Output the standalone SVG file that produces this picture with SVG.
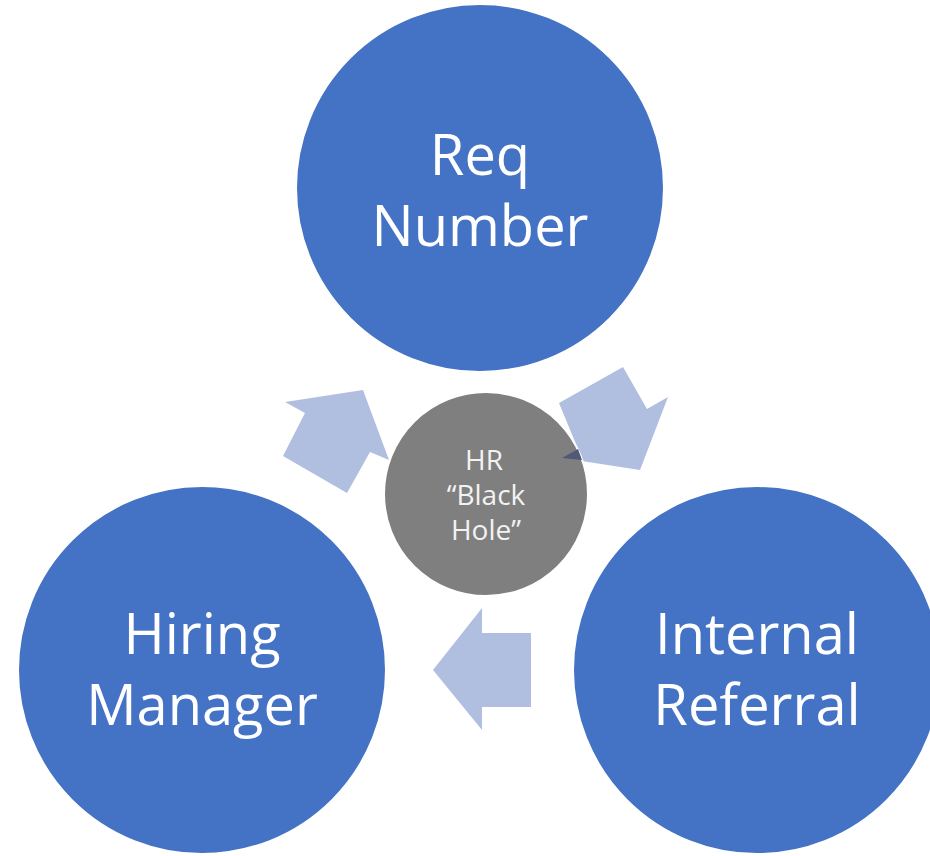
<svg xmlns="http://www.w3.org/2000/svg" width="930" height="856" viewBox="0 0 930 856">
<style>
.big{fill:#4472C4;stroke:#ffffff;stroke-width:2}
.hole{fill:#7F7F7F;stroke:#ffffff;stroke-width:2}
.arr{fill:#B0BEE0}
.t{font-family:"Open Sans","Noto Sans",sans-serif;fill:#ffffff;text-anchor:middle}
.tb{font-size:56px}
.ts{font-size:28px;fill:#F2F2F2}
</style>
<rect width="930" height="856" fill="#ffffff"/>
<g id="connectors">
<polygon class="arr" points="283,456 305,413 285,402 363,390 389,460 370,452 347,493"/>
<polygon class="arr" points="559,403 623,367 647,409 668,397 640,470 562,458 578,449"/>
<polygon class="arr" points="531,633 482,633 482,608 433,670 482,730 482,707 531,707"/>
</g>
<g id="req">
<circle class="big" cx="480" cy="188" r="184"/>
<text class="t tb" x="480" y="175">Req</text>
<text class="t tb" x="480" y="246">Number</text>
</g>
<g id="hiring">
<circle class="big" cx="202" cy="670" r="184"/>
<text class="t tb" x="202" y="654">Hiring</text>
<text class="t tb" x="202" y="725">Manager</text>
</g>
<g id="referral">
<circle class="big" cx="757" cy="670" r="184"/>
<text class="t tb" x="757" y="654">Internal</text>
<text class="t tb" x="757" y="725">Referral</text>
</g>
<g id="hr">
<circle class="hole" cx="486" cy="494" r="102"/>
<polygon points="562,458 578,449 582,460" fill="#4F5A78"/>
<text class="t ts" x="484" y="470">HR</text>
<text class="t ts" x="486" y="505">“Black</text>
<text class="t ts" x="486" y="540">Hole”</text>
</g>
</svg>
